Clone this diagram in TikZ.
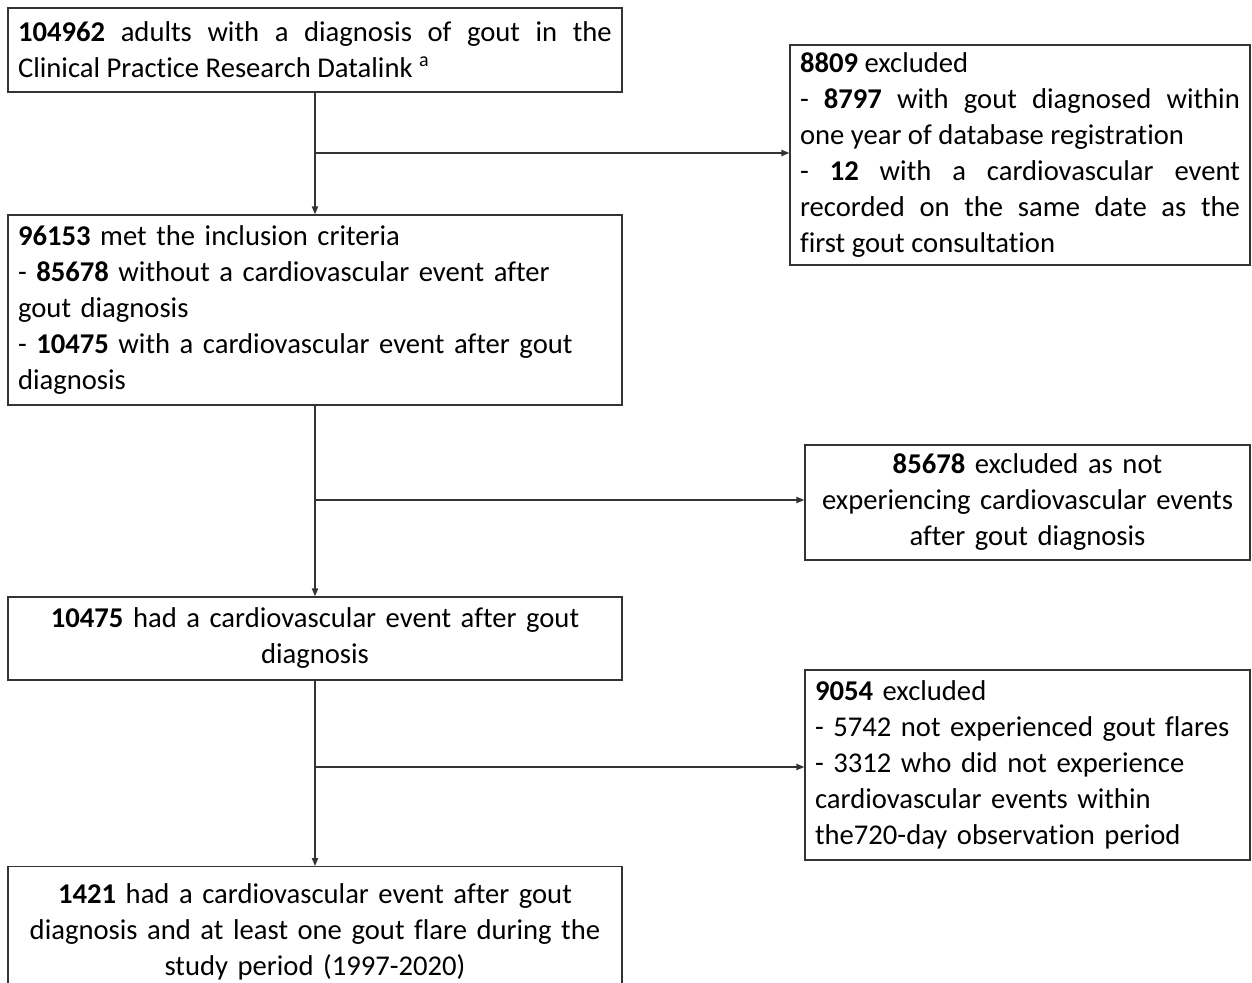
\documentclass[tikz,border=0pt]{standalone}
\usepackage{fontspec}
\setmainfont{Carlito}[Ligatures = NoCommon]
\usetikzlibrary{arrows.meta}

\begin{document}
\begin{tikzpicture}[x = 0.02cm, y = -0.02cm, font = \fontsize{16.3}{20.5}\selectfont]
	\tikzstyle{boxStyle} = [shape = rectangle, draw = black!80, line width = 0.8pt, inner xsep = 0.2cm, inner ysep = 0.1cm]
	\tikzstyle{wideStyle} = [boxStyle, text width = 11.88cm]
	\tikzstyle{sideStyle} = [boxStyle, text width = 8.5cm]
	\tikzstyle{arrowStyle} = [draw = black!80, line width = 0.8pt, -{Triangle[length = 4.5pt, width = 3.5pt]}]
	\useasboundingbox (0,0) rectangle (1252,983);
	\node[wideStyle, align = justify, minimum height = 1.68cm] (start) at (315,50) {\textbf{104962} adults with a diagnosis of gout in the\linebreak Clinical Practice Research Datalink \textsuperscript{a}};
	\node[wideStyle, align = left, minimum height = 3.8cm] (incl) at (315,310) {\textbf{96153} met the inclusion criteria\\- \textbf{85678} without a cardiovascular event after\\gout diagnosis\\- \textbf{10475} with a cardiovascular event after gout\\diagnosis};
	\node[wideStyle, align = center, minimum height = 1.66cm] (cvd) at (315,638.5) {\textbf{10475} had a cardiovascular event after gout\\diagnosis};
	\node[wideStyle, align = center, anchor = north, minimum height = 2.6cm] (final) at (315,866) {\textbf{1421} had a cardiovascular event after gout\\diagnosis and at least one gout flare during the\\study period (1997-2020)};
	\node[boxStyle, text width = 8.8cm, align = justify, minimum height = 4.4cm] (excl1) at (1020,155) {\textbf{8809} excluded\\- \textbf{8797} with gout diagnosed within\linebreak one year of database registration\\- \textbf{12} with a cardiovascular event\linebreak recorded on the same date as the\linebreak first gout consultation};
	\node[sideStyle, align = center, minimum height = 2.3cm] (excl2) at (1027.5,502.5) {\textbf{85678} excluded as not\\experiencing cardiovascular events\\after gout diagnosis};
	\node[sideStyle, align = left, minimum height = 3.8cm] (excl3) at (1027.5,765) {\textbf{9054} excluded\\- 5742 not experienced gout flares\\- 3312 who did not experience\\cardiovascular events within\\the720-day observation period};
	\coordinate (j1) at (315,153);
	\coordinate (j2) at (315,500);
	\coordinate (j3) at (315,767);
	\draw[arrowStyle] (start) -- (incl);
	\draw[arrowStyle] (incl) -- (cvd);
	\draw[arrowStyle] (cvd) -- (final);
	\draw[arrowStyle] (j1) -- (j1 -| excl1.west);
	\draw[arrowStyle] (j2) -- (j2 -| excl2.west);
	\draw[arrowStyle] (j3) -- (j3 -| excl3.west);
\end{tikzpicture}
\end{document}
